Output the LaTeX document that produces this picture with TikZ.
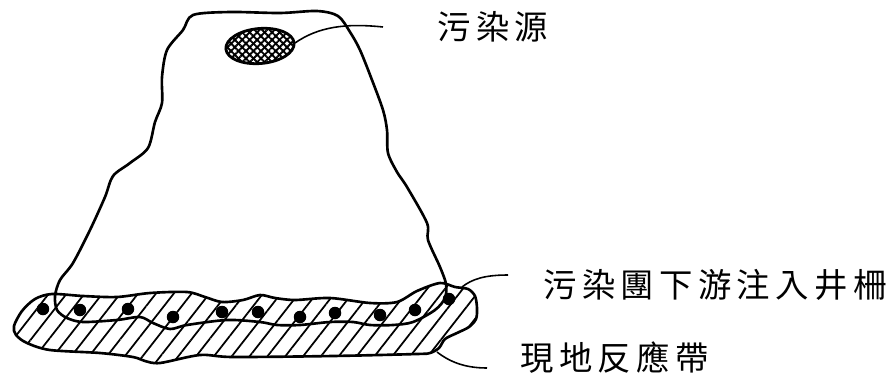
\documentclass[tikz,border=0pt]{standalone}
\usepackage{fontspec}
\newfontfamily\cjk[LetterSpace=16]{Noto Sans CJK TC}
\usetikzlibrary{patterns.meta,shapes.geometric}

\begin{document}
\begin{tikzpicture}[x=0.02cm, y=-0.02cm,
    outline/.style={line width=1.5pt, line join=round},
    leader/.style={line width=0.9pt},
    well/.style={circle, fill, inner sep=0pt, minimum size=0.25cm},
    source/.style={ellipse, draw, line width=1.6pt, inner sep=0pt,
      minimum width=1.37cm, minimum height=0.7cm, rotate=5,
      pattern={Lines[angle=45, distance=3pt, line width=1.1pt]},
      preaction={pattern={Lines[angle=-45, distance=3pt, line width=1.1pt]}}},
    note/.style={inner sep=0pt, anchor=west, font=\cjk\fontsize{19}{19}\selectfont}]

    \useasboundingbox (0,0) rectangle (896,379);

    % reactive zone, hatched
    \draw[outline, pattern={Lines[angle=52, distance=8pt, line width=1pt]}]
      plot[smooth cycle] coordinates {
        (14,326) (22,311) (35,299) (52,294) (83,296) (117,297) (150,293)
        (187,292) (205,297) (222,302) (243,300) (260,295) (275,298) (295,300)
        (330,298) (370,303) (397,302) (417,291) (440,283) (455,287) (468,289)
        (475,296) (477,308) (476,319) (469,327) (457,333) (445,339) (439,348)
        (430,353) (417,354) (333,356) (233,357) (200,355) (160,363) (145,361)
        (133,357) (100,353) (50,350) (27,343) (16,335)};

    % plume outline
    \draw[outline] plot[smooth cycle] coordinates {
        (193,15) (230,12) (280,13) (317,11) (338,16) (350,32) (360,50)
        (372,80) (383,110) (387,130) (388,153) (397,172) (407,187) (427,223)
        (428,240) (440,267) (446,284) (445,298) (435,310) (413,322) (393,325)
        (370,325) (353,322) (330,322) (300,325) (277,325) (260,322) (227,320)
        (187,325) (170,329) (153,323) (140,317) (117,320) (83,322) (67,318)
        (57,310) (55,296) (60,280) (73,263) (90,230) (105,197) (113,176)
        (130,163) (148,148) (155,122) (162,103) (162,77) (167,50) (183,30)};

    % injection wells
    \foreach \x/\y [count=\i] in {43/309, 80/310, 128/309, 173/317, 222/312,
        258/312, 300/317, 335/313, 380/315, 415/310, 449/299}
      \node[well] (w\i) at (\x,\y) {};

    \node[source] (src) at (260,46) {};

    % labels and leaders
    \node[note] (srclbl) at (437,27) {污染源};
    \node[note] (gridlbl) at (543,285) {污染團下游注入井柵};
    \node[note] (zonelbl) at (520,358) {現地反應帶};

    \coordinate (srcend) at (383,27);
    \coordinate (gridtip) at (462,287);
    \coordinate (gridend) at (508,275);
    \coordinate (zonetip) at (437,352);
    \coordinate (zoneend) at (487,368);

    \draw[leader] (src.east) .. controls (318,27) and (345,23) .. (srcend);
    \draw[leader] (gridtip) .. controls (472,279) and (485,275) .. (gridend);
    \draw[leader] (zonetip) .. controls (450,362) and (465,368) .. (zoneend);
\end{tikzpicture}
\end{document}
